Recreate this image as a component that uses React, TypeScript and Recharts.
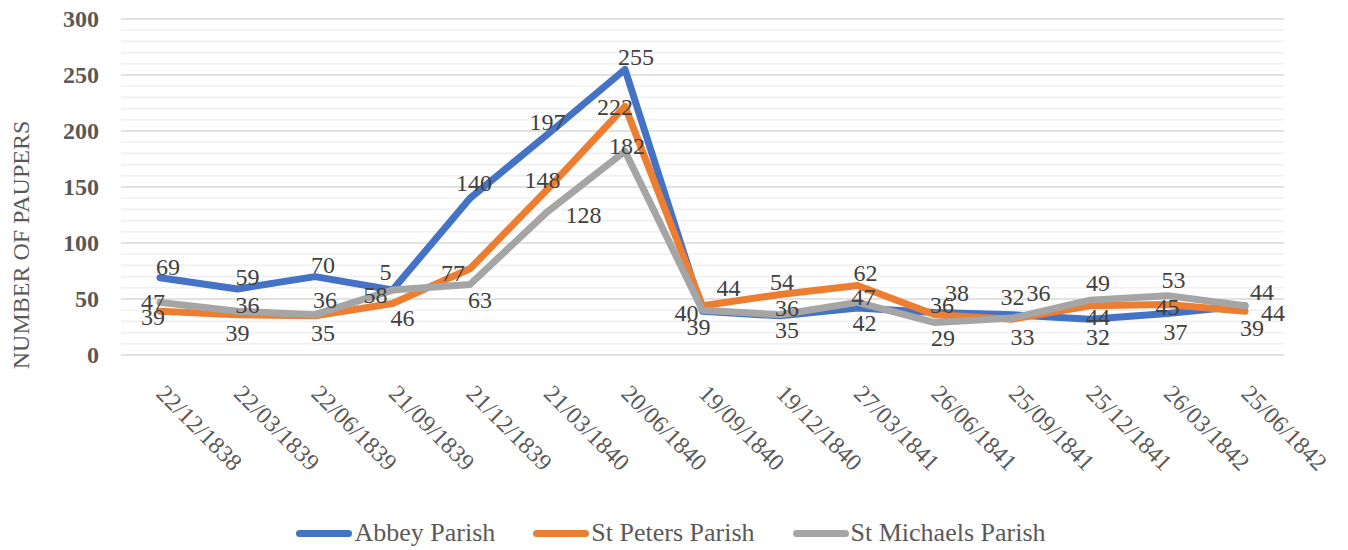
import { LineChart, Line, XAxis, YAxis, CartesianGrid, LabelList, Legend } from "recharts";

const dates = [
  "22/12/1838", "22/03/1839", "22/06/1839", "21/09/1839", "21/12/1839",
  "21/03/1840", "20/06/1840", "19/09/1840", "19/12/1840", "27/03/1841",
  "26/06/1841", "25/09/1841", "25/12/1841", "26/03/1842", "25/06/1842",
];
const abbey = [69, 59, 70, 58, 140, 197, 255, 39, 35, 42, 38, 36, 32, 37, 44];
const stPeters = [39, 36, 35, 46, 77, 148, 222, 44, 54, 62, 36, 32, 44, 45, 39];
const stMichaels = [47, 39, 36, 58, 63, 128, 182, 40, 36, 47, 29, 33, 49, 53, 44];
// the reference shows "5" as the label of Abbey's 4th point
const abbeyLabelText: Record<number, string> = { 3: "5" };
const yTicks = [
  0, 10, 20, 30, 40, 50, 60, 70, 80, 90, 100, 110, 120, 130, 140, 150,
  160, 170, 180, 190, 200, 210, 220, 230, 240, 250, 260, 270, 280, 290, 300,
];

const rows = dates.map((d, i) => ({
  date: d,
  abbey: abbey[i],
  peters: stPeters[i],
  michaels: stMichaels[i],
}));

const FONT = '"Liberation Serif", serif';

// label nudges (dx, dy) relative to each point, as placed in the reference
const abbeyNudge = [[8, -11], [10, -12], [8, -12], [-7, -18], [4, -15], [0, -12], [11, -12], [-4, 16], [7, 14], [7, 15], [22, -19], [26, -22], [8, 18], [8, 18], [28, 7]];
const petersNudge = [[-7, 6], [10, -10], [8, 17], [10, 15], [-17, 4], [-5, -9], [-10, 1], [26, -18], [2, -13], [8, -13], [7, -10], [0, -22], [8, 11], [0, 2], [7, 17]];
const michaelsNudge = [[-7, 0], [0, 22], [10, -15], [-17, 5], [10, 16], [36, 3], [2, -5], [-16, 3], [7, -7], [6, -5], [8, 15], [10, 19], [8, -17], [6, -16], [17, -14]];

const series = [
  { key: "abbey", name: "Abbey Parish", color: "#4472C4", nudge: abbeyNudge, text: abbeyLabelText },
  { key: "peters", name: "St Peters Parish", color: "#ED7D31", nudge: petersNudge, text: {} as Record<number, string> },
  { key: "michaels", name: "St Michaels Parish", color: "#A5A5A5", nudge: michaelsNudge, text: {} as Record<number, string> },
];

const makeLabel = (nudge: number[][], text: Record<number, string>) => (props: any) => {
  const x = props.x ?? props.viewBox?.x;
  const y = props.y ?? props.viewBox?.y;
  const i = props.index ?? 0;
  const [dx, dy] = nudge[i] || [0, -14];
  return (
    <text
      x={x + dx}
      y={y + dy}
      textAnchor="middle"
      dominantBaseline="central"
      fontFamily={FONT}
      fontSize={24}
      fill="#404040"
    >
      {text[i] ?? props.value}
    </text>
  );
};

const XTick = (props: any) => {
  const { x, y, payload } = props;
  return (
    <text
      transform={`translate(${x - 5},${y + 40}) rotate(45)`}
      textAnchor="start"
      fontFamily={FONT}
      fontSize={24}
      fill="#595959"
    >
      {payload.value}
    </text>
  );
};

const YTick = (props: any) => {
  const { x, y, payload } = props;
  if (payload.value % 50 !== 0) return <g />;
  return (
    <text
      x={x}
      y={y}
      textAnchor="end"
      dominantBaseline="central"
      fontFamily={FONT}
      fontSize={24}
      fontWeight="bold"
      fill="#595959"
    >
      {payload.value}
    </text>
  );
};

const gridLine = (p: any) => (
  <line
    key={p.key}
    x1={p.x1}
    x2={p.x2}
    y1={p.y1}
    y2={p.y2}
    stroke={p.index % 5 === 0 ? "#d9d9d9" : "#f0f0f0"}
    strokeWidth={1.6}
  />
);

const LegendBox = () => (
  <div
    style={{
      display: "flex",
      justifyContent: "center",
      alignItems: "center",
      fontFamily: FONT,
      fontSize: 26,
      color: "#595959",
      height: 34,
      paddingLeft: 50,
    }}
  >
    {series.map((s, i) => (
      <div key={s.key} style={{ display: "flex", alignItems: "center", marginRight: i < series.length - 1 ? 38 : 0 }}>
        <span
          style={{
            display: "inline-block",
            width: 56,
            height: 7,
            borderRadius: 4,
            background: s.color,
            marginRight: 2,
          }}
        />
        <span>{s.name}</span>
      </div>
    ))}
  </div>
);

export default function App() {
  return (
    <div style={{ width: 1332, height: 542 }}>
      <LineChart
        width={1332}
        height={542}
        data={rows}
        margin={{ top: 11, right: 56, left: 0, bottom: 0 }}
        style={{ overflow: "visible" }}
      >
        <CartesianGrid vertical={false} horizontal={gridLine} />
        <XAxis
          dataKey="date"
          height={161}
          axisLine={false}
          tickLine={false}
          tickSize={0}
          tickMargin={0}
          interval={0}
          padding={{ left: 39, right: 39 }}
          tick={<XTick />}
        />
        <YAxis
          width={113}
          domain={[0, 300]}
          ticks={yTicks}
          interval={0}
          axisLine={false}
          tickLine={false}
          tickSize={0}
          tickMargin={22}
          tick={<YTick />}
          label={{
            content: (p: any) => {
              const vb = p.viewBox || { y: 11, height: 336 };
              return (
                <text
                  transform={`translate(13,${vb.y + vb.height / 2 + 58}) rotate(-90)`}
                  textAnchor="middle"
                  dominantBaseline="central"
                  fontFamily={FONT}
                  fontSize={24}
                  fill="#595959"
                >
                  NUMBER OF PAUPERS
                </text>
              );
            },
          }}
        />
        <Legend verticalAlign="bottom" height={34} content={() => <LegendBox />} />
        {series.map((s) => (
          <Line
            key={s.key}
            dataKey={s.key}
            name={s.name}
            stroke={s.color}
            strokeWidth={7}
            strokeLinejoin="round"
            strokeLinecap="round"
            dot={false}
            activeDot={false}
            isAnimationActive={false}
          />
        ))}
        {series.map((s) => (
          <Line
            key={s.key + "-labels"}
            dataKey={s.key}
            stroke="none"
            legendType="none"
            dot={false}
            activeDot={false}
            isAnimationActive={false}
          >
            <LabelList dataKey={s.key} content={makeLabel(s.nudge, s.text)} />
          </Line>
        ))}
      </LineChart>
    </div>
  );
}
